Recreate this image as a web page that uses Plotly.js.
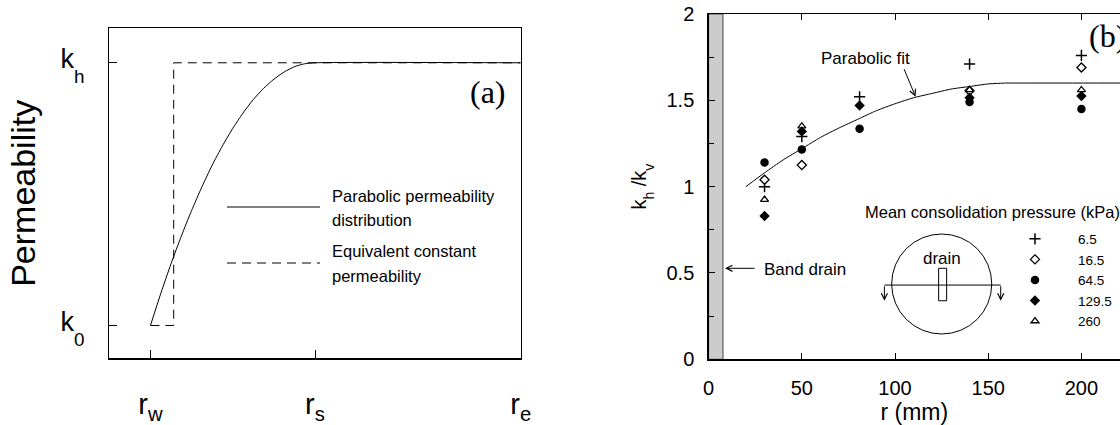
<!DOCTYPE html>
<html><head><meta charset="utf-8">
<script src="https://cdn.plot.ly/plotly-3.0.1.min.js"></script>
<style>html,body{margin:0;padding:0;background:#fff}</style>
</head><body><div id="chart" style="width:1120px;height:425px"></div>
<script>
// ---------- Panel (a): schematic permeability distribution ----------
const aTickX = [1, 5, 10];
const aTickXText = ['r<sub>w</sub>', 'r<sub>s</sub>', 'r<sub>e</sub>'];
const aTickY = [1, 9];
const aTickYText = ['k<span style="font-size:70%;baseline-shift:-0.8em">0</span>',
                    'k<span style="font-size:70%;baseline-shift:-0.8em">h</span>'];
const aParabR = [1, 1.25, 1.5, 1.75, 2, 2.25, 2.5, 2.75, 3, 3.25, 3.5, 3.75, 4, 4.25, 4.5, 4.75, 5, 10];
const aParabK = [1, 1.97, 2.88, 3.72, 4.5, 5.22, 5.88, 6.47, 7.0, 7.47, 7.88, 8.22, 8.5, 8.72, 8.88, 8.97, 9, 9];
const aEquivR = [1, 1.565, 1.565, 10];
const aEquivK = [1, 1, 9, 9];

// ---------- Panel (b): measured kh/kv vs radius ----------
const bR = [30, 50, 81, 140, 200];
const bPressures = ['6.5', '16.5', '64.5', '129.5', '260'];
const bP6_5   = [1.00, 1.29, 1.52, 1.71, 1.76];
const bP16_5  = [1.04, 1.125, null, 1.555, 1.69];
const bP64_5  = [1.14, 1.215, 1.335, 1.49, 1.45];
const bP129_5 = [0.83, 1.32, 1.47, 1.515, 1.525];
const bP260   = [0.925, 1.35, null, 1.56, 1.56];
const bFitR = [20, 30, 40, 50, 60, 70, 80, 90, 100, 110, 120, 130, 140, 150, 160, 165, 250];
const bFitK = [1.00, 1.08, 1.155, 1.22, 1.285, 1.34, 1.39, 1.44, 1.48, 1.515, 1.54, 1.565, 1.58, 1.595, 1.6, 1.6, 1.6];

const FF = 'Liberation Sans, Arial, Helvetica, sans-serif';
const SERIF = 'Liberation Serif, Times New Roman, serif';

const traces = [
  {x: aParabR, y: aParabK, xaxis: 'x', yaxis: 'y', mode: 'lines', showlegend: false,
   line: {color: '#000', width: 1, shape: 'spline', smoothing: 0.6}, hoverinfo: 'skip'},
  {x: aEquivR, y: aEquivK, xaxis: 'x', yaxis: 'y', mode: 'lines', showlegend: false,
   line: {color: '#000', width: 1, dash: '9px,6px'}, hoverinfo: 'skip'},
  {x: bFitR, y: bFitK, xaxis: 'x2', yaxis: 'y2', mode: 'lines', showlegend: false,
   line: {color: '#000', width: 1, shape: 'spline', smoothing: 0.6}, hoverinfo: 'skip'},
  {x: bR, y: bP6_5, xaxis: 'x2', yaxis: 'y2', mode: 'markers', name: bPressures[0],
   marker: {symbol: 'cross-thin', size: 8, color: '#000', line: {color: '#000', width: 1.5}}},
  {x: bR, y: bP16_5, xaxis: 'x2', yaxis: 'y2', mode: 'markers', name: bPressures[1],
   marker: {symbol: 'diamond', size: 7, color: '#fff', line: {color: '#000', width: 1.3}}},
  {x: bR, y: bP260, xaxis: 'x2', yaxis: 'y2', mode: 'markers', name: bPressures[4],
   marker: {symbol: 'triangle-up', size: 7, color: '#fff', line: {color: '#000', width: 1.3}}},
  {x: bR, y: bP129_5, xaxis: 'x2', yaxis: 'y2', mode: 'markers', name: bPressures[3],
   marker: {symbol: 'diamond', size: 8, color: '#000', line: {width: 0}}},
  {x: bR, y: bP64_5, xaxis: 'x2', yaxis: 'y2', mode: 'markers', name: bPressures[2],
   marker: {symbol: 'circle', size: 8.5, color: '#000', line: {width: 0}}}
];
// legend order
traces[3].legendrank = 1; traces[4].legendrank = 2; traces[7].legendrank = 3;
traces[6].legendrank = 4; traces[5].legendrank = 5;

const layout = {
  width: 1120, height: 425,
  margin: {l: 0, r: 0, t: 0, b: 0},
  paper_bgcolor: '#fff', plot_bgcolor: '#fff',
  font: {family: FF, color: '#000'},
  showlegend: true,
  legend: {x: 0.8857, xanchor: 'left', y: 0.474, yanchor: 'top', itemwidth: 76,
           font: {family: FF, size: 13.5, color: '#000'}, bgcolor: 'rgba(0,0,0,0)',
           borderwidth: 0, tracegroupgap: 0, traceorder: 'normal'},
  xaxis: {domain: [0.0976, 0.4649], range: [0, 10], anchor: 'y',
          tickmode: 'array', tickvals: aTickX, ticktext: aTickXText,
          ticks: 'inside', ticklen: 8, tickwidth: 1, tickcolor: '#000',
          showline: true, mirror: true, linecolor: '#000', linewidth: 1.3,
          showgrid: false, zeroline: false, ticklabelstandoff: 20,
          tickfont: {family: FF, size: 29}},
  yaxis: {domain: [0.1569, 0.9334], range: [0, 10.05], anchor: 'x',
          tickmode: 'array', tickvals: aTickY, ticktext: aTickYText,
          ticks: 'inside', ticklen: 8, tickwidth: 1, tickcolor: '#000',
          showline: true, mirror: true, linecolor: '#000', linewidth: 1.3,
          showgrid: false, zeroline: false, ticklabelstandoff: 18, ticklabelshift: -4,
          tickfont: {family: FF, size: 27},
          title: {text: 'Permeability', font: {family: FF, size: 34}, standoff: 14}},
  xaxis2: {domain: [0.6327, 1], range: [0, 220.7], anchor: 'y2',
           tickmode: 'linear', tick0: 0, dtick: 50,
           ticks: 'inside', ticklen: 6, tickwidth: 1, tickcolor: '#000',
           showline: true, mirror: 'ticks', linecolor: '#000', linewidth: 1.3,
           showgrid: false, zeroline: false, ticklabelstandoff: 10,
           tickfont: {family: FF, size: 20},
           title: {text: 'r (mm)', font: {family: FF, size: 23}, standoff: 9}},
  yaxis2: {domain: [0.1546, 0.9671], range: [0, 2], anchor: 'x2',
           tickmode: 'linear', tick0: 0, dtick: 0.5,
           ticks: 'inside', ticklen: 6, tickwidth: 1, tickcolor: '#000',
           minor: {dtick: 0.25, ticks: 'inside', ticklen: 5, tickcolor: '#000', showgrid: false},
           showline: true, mirror: false, linecolor: '#000', linewidth: 1.3,
           showgrid: false, zeroline: false, ticklabelstandoff: 9,
           tickfont: {family: FF, size: 20},
           title: {text: 'k<span style="font-size:70%;baseline-shift:-0.55em">h</span> /k<span style="font-size:70%;baseline-shift:-0.55em">v</span>',
                   font: {family: FF, size: 20}, standoff: 14}},
  shapes: [
    // band drain strip
    {type: 'rect', xref: 'x2', yref: 'y2', x0: 0, x1: 7.7, y0: 0, y1: 2, layer: 'below',
     fillcolor: '#cccccc', line: {color: '#444', width: 1}},
    // panel (a) legend samples
    {type: 'line', xref: 'paper', yref: 'paper', x0: 227/1120, x1: 320/1120, y0: (425-207)/425, y1: (425-207)/425,
     line: {color: '#000', width: 1}},
    {type: 'line', xref: 'paper', yref: 'paper', x0: 227/1120, x1: 320/1120, y0: (425-263)/425, y1: (425-263)/425,
     line: {color: '#000', width: 1, dash: '9px,6px'}},
    // drain inset: circle, drain, flow path
    {type: 'circle', xref: 'x2', yref: 'y2', x0: 98.2, x1: 151.9, y0: 0.1465, y1: 0.7257,
     line: {color: '#000', width: 1}},
    {type: 'rect', xref: 'x2', yref: 'y2', x0: 123.4, x1: 127.7, y0: 0.339, y1: 0.527,
     line: {color: '#000', width: 1}},
    {type: 'line', xref: 'x2', yref: 'y2', x0: 94.3, x1: 156.7, y0: 0.430, y1: 0.430,
     line: {color: '#000', width: 1}}
  ],
  annotations: [
    {xref: 'paper', yref: 'paper', x: 488/1120, y: (425-92)/425, text: '(a)', showarrow: false,
     font: {family: SERIF, size: 32}, xanchor: 'center', yanchor: 'middle'},
    {xref: 'paper', yref: 'paper', x: 330/1120, y: (425-196)/425, text: 'Parabolic permeability', showarrow: false,
     font: {family: FF, size: 16.5}, xanchor: 'left', yanchor: 'middle'},
    {xref: 'paper', yref: 'paper', x: 330/1120, y: (425-220)/425, text: 'distribution', showarrow: false,
     font: {family: FF, size: 16.5}, xanchor: 'left', yanchor: 'middle'},
    {xref: 'paper', yref: 'paper', x: 330/1120, y: (425-251)/425, text: 'Equivalent constant', showarrow: false,
     font: {family: FF, size: 16.5}, xanchor: 'left', yanchor: 'middle'},
    {xref: 'paper', yref: 'paper', x: 330/1120, y: (425-276)/425, text: 'permeability', showarrow: false,
     font: {family: FF, size: 16.5}, xanchor: 'left', yanchor: 'middle'},
    {xref: 'paper', yref: 'paper', x: 1087/1120, y: (425-36)/425, text: '(b)', showarrow: false,
     font: {family: SERIF, size: 32}, xanchor: 'left', yanchor: 'middle'},
    {xref: 'x2', yref: 'y2', x: 59.3, y: 1.74, text: 'Parabolic fit', showarrow: false,
     font: {family: FF, size: 17}, xanchor: 'left', yanchor: 'middle'},
    {xref: 'x2', yref: 'y2', x: 111, y: 1.521, text: '', showarrow: true, ax: -12, ay: -29,
     arrowhead: 5, arrowsize: 1.2, arrowwidth: 1, arrowcolor: '#000'},
    {xref: 'x2', yref: 'y2', x: 8.8, y: 0.527, text: '', showarrow: true, ax: 31, ay: 0,
     arrowhead: 5, arrowsize: 1.2, arrowwidth: 1, arrowcolor: '#000'},
    {xref: 'x2', yref: 'y2', x: 28.9, y: 0.518, text: 'Band drain', showarrow: false,
     font: {family: FF, size: 17}, xanchor: 'left', yanchor: 'middle'},
    {xref: 'x2', yref: 'y2', x: 82.7, y: 0.855, text: 'Mean consolidation pressure (kPa)', showarrow: false,
     font: {family: FF, size: 16.5}, xanchor: 'left', yanchor: 'middle'},
    {xref: 'x2', yref: 'y2', x: 125, y: 0.585, text: 'drain', showarrow: false,
     font: {family: FF, size: 17}, xanchor: 'center', yanchor: 'middle'},
    {xref: 'x2', yref: 'y2', x: 94.3, y: 0.339, text: '', showarrow: true, ax: 0, ay: -16,
     arrowhead: 5, arrowsize: 1.2, arrowwidth: 1, arrowcolor: '#000'},
    {xref: 'x2', yref: 'y2', x: 156.7, y: 0.339, text: '', showarrow: true, ax: 0, ay: -16,
     arrowhead: 5, arrowsize: 1.2, arrowwidth: 1, arrowcolor: '#000'}
  ]
};

Plotly.newPlot('chart', traces, layout, {staticPlot: true, displayModeBar: false});
</script>
</body></html>
